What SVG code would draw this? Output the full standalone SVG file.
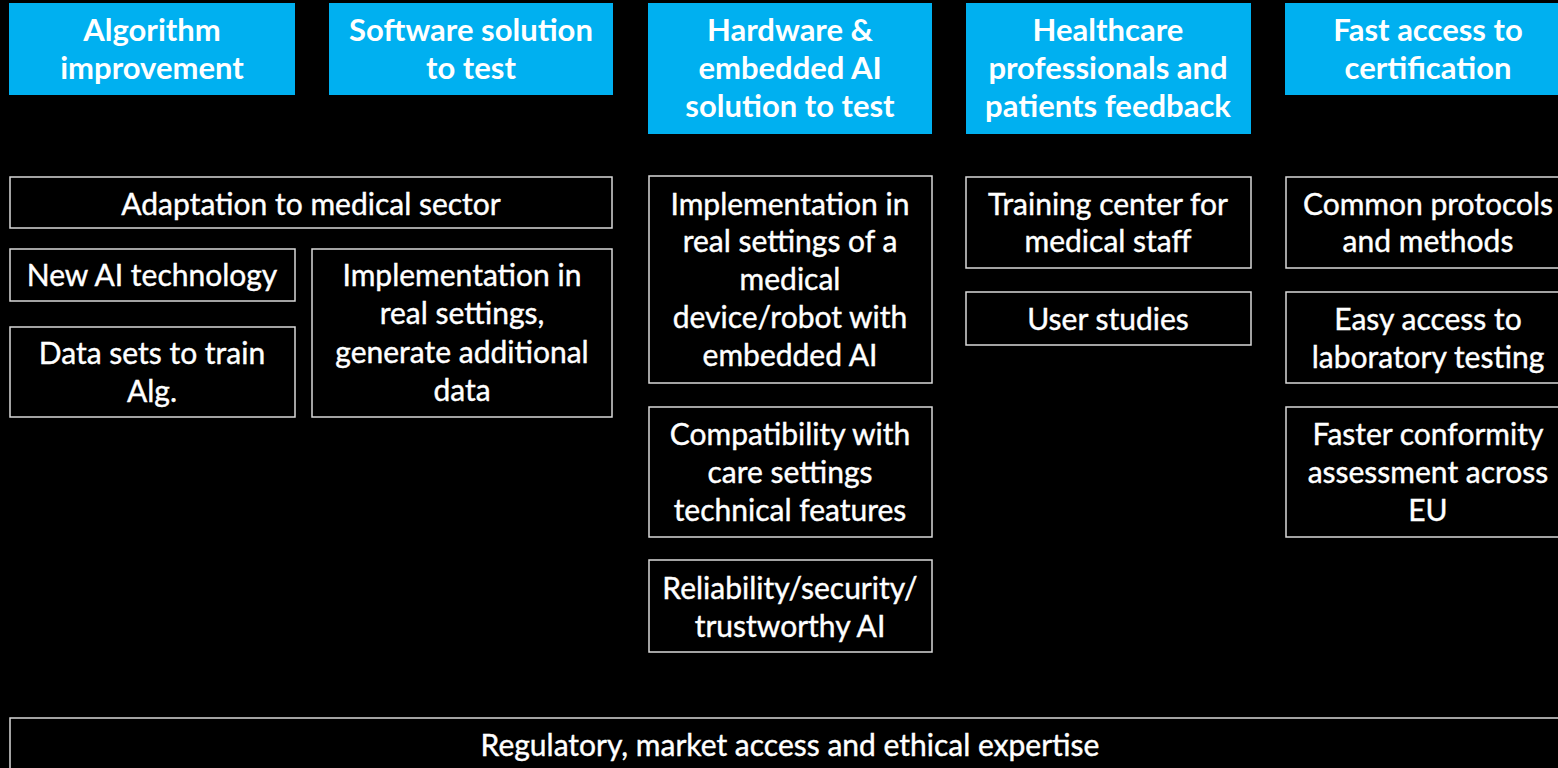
<svg xmlns="http://www.w3.org/2000/svg" width="1558" height="768" viewBox="0 0 1558 768">
<style>
.hdr{fill:#00B0F0;}
.hdr-t{font-family:Lato,"Open Sans",sans-serif;font-weight:700;font-size:31px;fill:#ffffff;text-anchor:middle;}
.box{fill:#000000;stroke:#d9d9d9;stroke-width:1.5;}
.t{font-family:Lato,"Open Sans",sans-serif;font-size:30px;fill:#ffffff;text-anchor:middle;stroke:#ffffff;stroke-width:0.4;}
</style>
<rect x="0" y="0" width="1558" height="768" fill="#000000"/>
<g id="h-algorithm">
<rect class="hdr" x="9" y="3" width="286" height="92"/>
<text class="hdr-t"><tspan x="152" y="41">Algorithm</tspan><tspan x="152" y="79">improvement</tspan></text>
</g>
<g id="h-software">
<rect class="hdr" x="329" y="3" width="284" height="92"/>
<text class="hdr-t"><tspan x="471" y="41">Software solution</tspan><tspan x="471" y="79">to test</tspan></text>
</g>
<g id="h-hardware">
<rect class="hdr" x="648" y="3" width="284" height="131"/>
<text class="hdr-t"><tspan x="790" y="41">Hardware &amp;</tspan><tspan x="790" y="79">embedded AI</tspan><tspan x="790" y="117">solution to test</tspan></text>
</g>
<g id="h-healthcare">
<rect class="hdr" x="966" y="3" width="285" height="131"/>
<text class="hdr-t"><tspan x="1108" y="41">Healthcare</tspan><tspan x="1108" y="79">professionals and</tspan><tspan x="1108" y="117">patients feedback</tspan></text>
</g>
<g id="h-fast">
<rect class="hdr" x="1285" y="3" width="286" height="92"/>
<text class="hdr-t"><tspan x="1428" y="41">Fast access to</tspan><tspan x="1428" y="79">certification</tspan></text>
</g>
<g id="n-adaptation">
<rect class="box" x="10" y="177" width="602" height="51"/>
<text class="t" x="311" y="215">Adaptation to medical sector</text>
</g>
<g id="n-newai">
<rect class="box" x="10" y="249" width="285" height="52"/>
<text class="t" x="152" y="286">New AI technology</text>
</g>
<g id="n-datasets">
<rect class="box" x="10" y="327" width="285" height="90"/>
<text class="t"><tspan x="152" y="364">Data sets to train</tspan><tspan x="152" y="402">Alg.</tspan></text>
</g>
<g id="n-impl-sw">
<rect class="box" x="312" y="249" width="300" height="168"/>
<text class="t"><tspan x="462" y="286">Implementation in</tspan><tspan x="462" y="324">real settings,</tspan><tspan x="462" y="363">generate additional</tspan><tspan x="462" y="401">data</tspan></text>
</g>
<g id="n-impl-hw">
<rect class="box" x="649" y="176" width="283" height="207"/>
<text class="t"><tspan x="790" y="215">Implementation in</tspan><tspan x="790" y="252">real settings of a</tspan><tspan x="790" y="290">medical</tspan><tspan x="790" y="328">device/robot with</tspan><tspan x="790" y="366">embedded AI</tspan></text>
</g>
<g id="n-compat">
<rect class="box" x="649" y="407" width="283" height="130"/>
<text class="t"><tspan x="790" y="445">Compatibility with</tspan><tspan x="790" y="483">care settings</tspan><tspan x="790" y="521">technical features</tspan></text>
</g>
<g id="n-reliability">
<rect class="box" x="649" y="560" width="283" height="92"/>
<text class="t"><tspan x="790" y="599">Reliability/security/</tspan><tspan x="790" y="637">trustworthy AI</tspan></text>
</g>
<g id="n-training">
<rect class="box" x="966" y="177" width="285" height="91"/>
<text class="t"><tspan x="1108" y="215">Training center for</tspan><tspan x="1108" y="252">medical staff</tspan></text>
</g>
<g id="n-userstudies">
<rect class="box" x="966" y="292" width="285" height="53"/>
<text class="t" x="1108" y="330">User studies</text>
</g>
<g id="n-common">
<rect class="box" x="1286" y="177" width="285" height="91"/>
<text class="t"><tspan x="1428" y="215">Common protocols</tspan><tspan x="1428" y="252">and methods</tspan></text>
</g>
<g id="n-easy">
<rect class="box" x="1286" y="292" width="285" height="91"/>
<text class="t"><tspan x="1428" y="330">Easy access to</tspan><tspan x="1428" y="368">laboratory testing</tspan></text>
</g>
<g id="n-faster">
<rect class="box" x="1286" y="407" width="285" height="130"/>
<text class="t"><tspan x="1428" y="445">Faster conformity</tspan><tspan x="1428" y="483">assessment across</tspan><tspan x="1428" y="521">EU</tspan></text>
</g>
<g id="n-regulatory">
<rect class="box" x="10" y="718" width="1565" height="60"/>
<text class="t" x="790" y="756">Regulatory, market access and ethical expertise</text>
</g>
<g id="connectors"></g>
</svg>
